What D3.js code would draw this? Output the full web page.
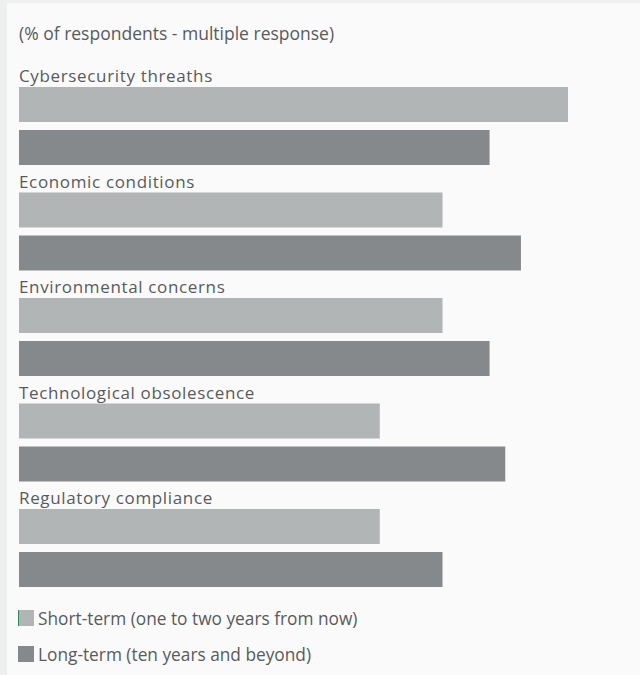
<!DOCTYPE html>
<html>
<head>
<meta charset="utf-8">
<script src="https://cdn.jsdelivr.net/npm/d3@7"></script>
<style>
  html, body { margin: 0; padding: 0; background: #eef0f0; }
  svg { display: block; }
  text { font-family: "Open Sans", sans-serif; fill: #585b5d; }
</style>
</head>
<body>
<script>
const categories = ["Cybersecurity threaths", "Economic conditions", "Environmental concerns", "Technological obsolescence", "Regulatory compliance"];
const seriesNames = ["Short-term (one to two years from now)", "Long-term (ten years and beyond)"];
const shortTerm = [35, 27, 27, 23, 23];
const longTerm = [30, 32, 30, 31, 27];
const subtitle = "(% of respondents - multiple response)";
const colors = ["#b1b5b5", "#85898c"];

const W = 640, H = 675;
const svg = d3.select("body").append("svg").attr("width", W).attr("height", H);

svg.append("rect").attr("x", 7).attr("y", 3).attr("width", W - 7).attr("height", H - 3).attr("fill", "#fafafa");

svg.append("text").attr("x", 19).attr("y", 40).attr("font-size", 17.5).text(subtitle);

const x = d3.scaleLinear().domain([0, 35]).range([19, 568]);
const yGroup = d3.scaleBand().domain(categories).range([66, 593.5]).paddingInner(0).paddingOuter(0);
const ySub = d3.scaleBand().domain([0, 1]).range([21, 99]).paddingInner(8 / 43).paddingOuter(0);

const data = categories.map((c, i) => ({ cat: c, vals: [shortTerm[i], longTerm[i]] }));

const g = svg.selectAll("g.grp").data(data).join("g").attr("class", "grp")
  .attr("transform", d => `translate(0,${yGroup(d.cat)})`);

g.append("text").attr("x", 19).attr("y", 16).attr("font-size", 17)
  .attr("letter-spacing", 0.65).text(d => d.cat);

g.selectAll("rect").data(d => d.vals).join("rect")
  .attr("x", x(0))
  .attr("y", (v, i) => ySub(i))
  .attr("width", v => x(v) - x(0))
  .attr("height", ySub.bandwidth())
  .attr("fill", (v, i) => colors[i]);

const leg = svg.selectAll("g.leg").data(seriesNames).join("g").attr("class", "leg")
  .attr("transform", (d, i) => `translate(18,${610 + i * 36})`);
leg.append("rect").attr("x", 0).attr("y", 0).attr("width", 16).attr("height", 16)
  .attr("fill", (d, i) => colors[i]);
leg.filter((d, i) => i === 0).append("rect").attr("x", 0).attr("y", 0).attr("width", 1).attr("height", 16).attr("fill", "#2e8b57");
leg.append("text").attr("x", 20).attr("y", 14.5).attr("font-size", 17.3).text(d => d);
</script>
</body>
</html>
